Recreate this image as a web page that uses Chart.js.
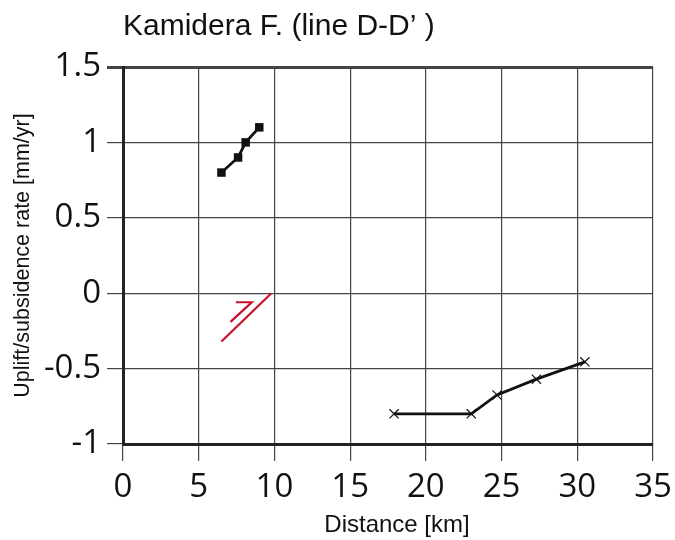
<!DOCTYPE html>
<html>
<head>
<meta charset="utf-8">
<script src="https://cdn.jsdelivr.net/npm/chart.js@4/dist/chart.umd.min.js"></script>
<style>
html,body{margin:0;padding:0;background:#fff;}
#wrap{width:675px;height:540px;position:relative;}
</style>
</head>
<body>
<div id="wrap"><canvas id="c" width="675" height="540"></canvas></div>
<script>
const titleText = "Kamidera F. (line D-D\u2019 )";
const xTitle = "Distance [km]";
const yTitle = "Uplift/subsidence rate [mm/yr]";

const squareX = [6.5, 7.6, 8.1, 9.0];
const squareY = [0.8, 0.9, 1.0, 1.1];

const crossX = [17.9, 23.0, 24.7, 27.3, 30.5];
const crossY = [-0.8, -0.8, -0.675, -0.57, -0.455];

const faultX = [6.5, 9.8];
const faultY = [-0.32, 0.0];

const arrowX = [7.1, 8.5, 7.45];
const arrowY = [-0.19, -0.06, -0.06];

const xMin = 0, xMax = 35, xStep = 5;
const yMin = -1, yMax = 1.5, yStep = 0.5;

function pts(xs, ys){ return xs.map((x,i)=>({x:x, y:ys[i]})); }

const textPlugin = {
  id: 'texts',
  afterDraw(chart){
    const ctx = chart.ctx;
    ctx.save();
    ctx.fillStyle = '#111';
    ctx.textBaseline = 'alphabetic';
    ctx.textAlign = 'left';
    ctx.font = '30px "Liberation Sans", Arial, sans-serif';
    ctx.fillText(titleText, 123, 35);
    ctx.textAlign = 'center';
    ctx.font = '24px "Liberation Sans", Arial, sans-serif';
    ctx.fillText(xTitle, 397, 532);
    ctx.restore();
  }
};

const tickFont = {family: '"Open Sans", "Noto Sans", sans-serif', size: 33};
const axisTitleFont = {family: '"Liberation Sans", Arial, sans-serif', size: 21.5};

new Chart(document.getElementById('c'), {
  type: 'scatter',
  data: {
    datasets: [
      {data: pts(squareX, squareY), showLine: true, borderColor: '#111', backgroundColor: '#111',
       borderWidth: 2.8, pointStyle: 'rect', pointRadius: 6, pointBorderWidth: 0},
      {data: pts(crossX, crossY), showLine: true, borderColor: '#111', backgroundColor: '#111',
       borderWidth: 2.8, pointStyle: 'crossRot', pointRadius: 6.5, pointBorderWidth: 1.2},
      {data: pts(faultX, faultY), showLine: true, borderColor: '#c8102e', borderWidth: 2.2, pointRadius: 0},
      {data: pts(arrowX, arrowY), showLine: true, borderColor: '#c8102e', borderWidth: 2.2, pointRadius: 0}
    ]
  },
  options: {
    responsive: false,
    animation: false,
    events: [],
    layout: {autoPadding: false, padding: {left: 10, right: 22, top: 67, bottom: 0}},
    plugins: {legend: {display: false}, tooltip: {enabled: false}, title: {display: false}},
    scales: {
      x: {
        type: 'linear', min: xMin, max: xMax,
        ticks: {stepSize: xStep, font: tickFont, color: '#111', padding: 7, maxRotation: 0},
        grid: {color: '#444', lineWidth: 1.2, tickLength: 17, drawTicks: true},
        border: {color: '#222', width: 3},
        afterFit(s){ s.height = 96; s.paddingRight = 0; s.paddingLeft = 0; }
      },
      y: {
        type: 'linear', min: yMin, max: yMax,
        ticks: {stepSize: yStep, font: tickFont, color: '#111', padding: 6,
                callback: (v)=> String(v)},
        grid: {color: '#444', lineWidth: (c)=> (c.tick && c.tick.value === yMax) ? 3 : 1.2, tickLength: 16},
        border: {color: '#222', width: 3},
        title: {display: true, text: yTitle, font: axisTitleFont, color: '#111', padding: {top: 0, bottom: 0}},
        afterFit(s){ s.width = 113; }
      }
    }
  },
  plugins: [textPlugin]
});
</script>
</body>
</html>
